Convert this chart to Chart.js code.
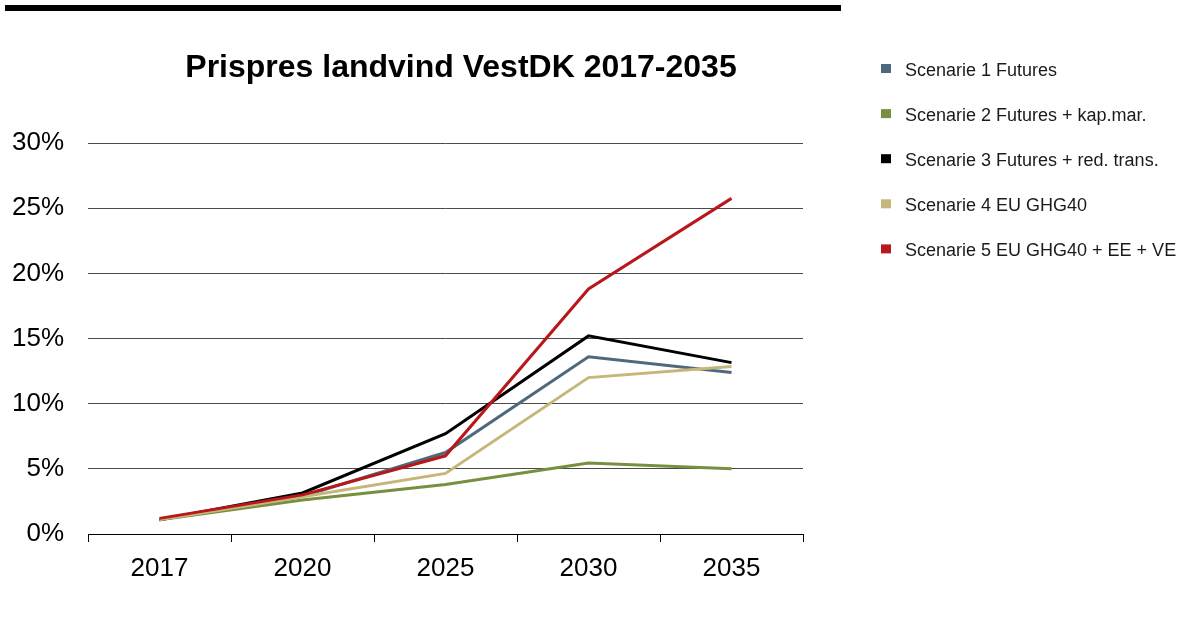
<!DOCTYPE html>
<html>
<head>
<meta charset="utf-8">
<script src="https://cdn.jsdelivr.net/npm/chart.js@4/dist/chart.umd.min.js"></script>
<style>
  html, body { margin: 0; padding: 0; background: #fff; }
  #wrap { width: 1186px; height: 621px; position: relative; }
</style>
</head>
<body>
<div id="wrap"><canvas id="prispres"></canvas></div>
<script>
// years on the x axis
const years = ["2017", "2020", "2025", "2030", "2035"];

// price premium per scenario, in percent
const scenarie1 = [1.1, 2.9, 6.25, 13.6, 12.4];
const scenarie2 = [1.1, 2.6, 3.8, 5.45, 5.0];
const scenarie3 = [1.1, 3.15, 7.7, 15.2, 13.15];
const scenarie4 = [1.1, 2.85, 4.65, 12.0, 12.85];
const scenarie5 = [1.2, 3.0, 6.0, 18.8, 25.75];

const seriesNames = [
  "Scenarie 1 Futures",
  "Scenarie 2 Futures + kap.mar.",
  "Scenarie 3 Futures + red. trans.",
  "Scenarie 4 EU GHG40",
  "Scenarie 5 EU GHG40 + EE + VE",
];
const seriesColors = ["#4e697b", "#77903f", "#000000", "#c6b67a", "#b8171c"];
const seriesData = [scenarie1, scenarie2, scenarie3, scenarie4, scenarie5];

const titleText = "Prispres landvind VestDK 2017-2035";
const fontFamily = "'Liberation Sans', Arial, sans-serif";

// title, top rule and the legend on the right
const decorations = {
  id: "decorations",
  afterDraw(chart) {
    const c = chart.ctx;
    c.save();
    c.fillStyle = "#000";
    c.fillRect(5, 5, 836, 6);

    c.font = "bold 32px " + fontFamily;
    c.textAlign = "center";
    c.textBaseline = "alphabetic";
    c.fillText(titleText, 461, 77);

    c.font = "18px " + fontFamily;
    c.textAlign = "left";
    chart.data.datasets.forEach((ds, i) => {
      const y = 69 + i * 45.1;
      c.fillStyle = ds.borderColor;
      c.fillRect(881, y - 5, 10, 9);
      c.fillStyle = "#1a1a1a";
      c.fillText(ds.label, 905, y + 6.5);
    });
    c.restore();
  },
};

const ctx = document.getElementById("prispres");

new Chart(ctx, {
  type: "line",
  data: {
    labels: years,
    datasets: seriesData.map((d, i) => ({
      label: seriesNames[i],
      data: d,
      borderColor: seriesColors[i],
      backgroundColor: seriesColors[i],
      borderWidth: 3,
      pointRadius: 0,
      tension: 0,
      order: 5 - i,
    })),
  },
  options: {
    responsive: true,
    maintainAspectRatio: false,
    animation: false,
    layout: {
      padding: { top: 143, left: 0, right: 383, bottom: 0 },
    },
    plugins: {
      legend: { display: false },
      title: { display: false },
      tooltip: { enabled: false },
    },
    scales: {
      x: {
        offset: true,
        grid: {
          offset: true,
          drawOnChartArea: false,
          drawTicks: true,
          tickLength: 8,
          color: "#000",
        },
        border: { display: true, color: "#000", width: 1 },
        ticks: {
          color: "#000",
          padding: 11,
          font: { family: fontFamily, size: 26 },
        },
        afterFit(scale) {
          scale.height = 87;
        },
      },
      y: {
        min: 0,
        max: 30,
        grid: { color: "#4a4a4a", drawTicks: false },
        border: { display: false },
        ticks: {
          stepSize: 5,
          color: "#000",
          padding: 24,
          font: { family: fontFamily, size: 26 },
          callback: (v) => v + "%",
        },
        afterFit(scale) {
          scale.width = 88;
        },
      },
    },
  },
  plugins: [decorations],
});
</script>
</body>
</html>
